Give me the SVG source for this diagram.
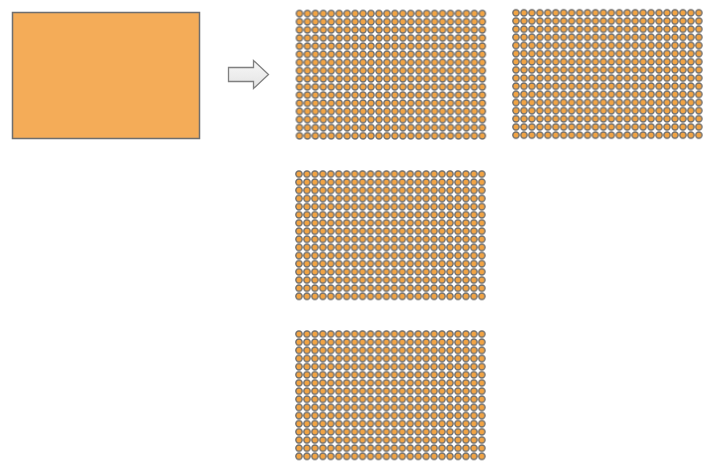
<svg xmlns="http://www.w3.org/2000/svg" width="715" height="472" viewBox="0 0 715 472">
<style>
.grid { stroke: none; }
</style>
<defs>
<pattern id="dots" patternUnits="userSpaceOnUse" x="0" y="0" width="7.95" height="8.15">
<circle cx="3.975" cy="4.075" r="3.15" fill="#f2a444" stroke="#6a6a6a" stroke-width="1.35"/>
</pattern>
<linearGradient id="arrowGrad" x1="0" y1="0" x2="0" y2="1">
<stop offset="0" stop-color="#f7f7f7"/>
<stop offset="1" stop-color="#e4e4e4"/>
</linearGradient>
</defs>
<rect width="715" height="472" fill="#ffffff"/>
<g id="source">
<rect x="12.5" y="12.5" width="187" height="126" fill="#f4ac58" stroke="#6e6e6e" stroke-width="1.5"/>
</g>
<g id="connectors">
<path d="M228.5,67.5 H253.5 V60.5 L268.5,74.5 L253.5,88.5 V81.5 H228.5 Z" fill="url(#arrowGrad)" stroke="#808080" stroke-width="1.3" stroke-linejoin="miter"/>
</g>
<g id="grid1" transform="translate(295.5,9.5)">
<rect class="grid" width="190.8" height="130.4" fill="url(#dots)"/>
</g>
<g id="grid2" transform="translate(512,8.8)">
<rect class="grid" width="190.8" height="130.4" fill="url(#dots)"/>
</g>
<g id="grid3" transform="translate(295,170)">
<rect class="grid" width="190.8" height="130.4" fill="url(#dots)"/>
</g>
<g id="grid4" transform="translate(295,330)">
<rect class="grid" width="190.8" height="130.4" fill="url(#dots)"/>
</g>
</svg>
